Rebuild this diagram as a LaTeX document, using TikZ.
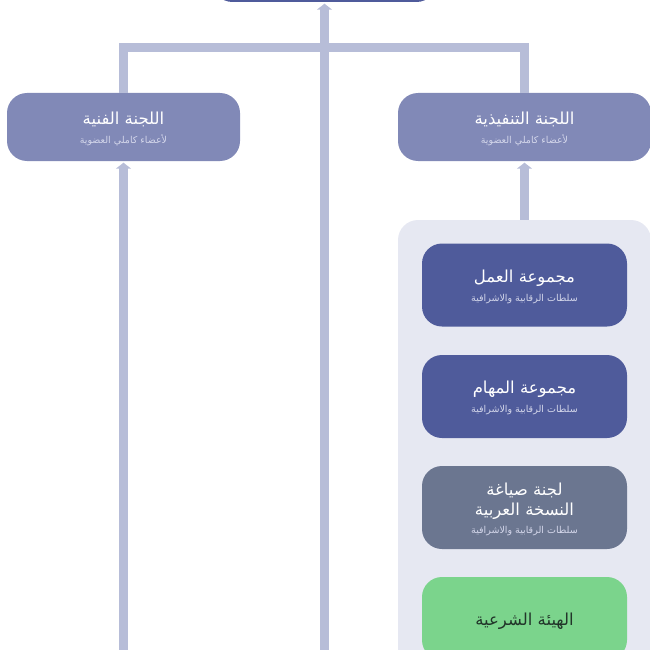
\documentclass[tikz,border=0pt]{standalone}
\usepackage{fontspec}
\usepackage{xcolor}
\usepackage{tikz}
\usetikzlibrary{arrows.meta}
\TeXXeTstate=1
\newfontfamily\arabicfont[Script=Arabic]{DejaVu Sans}
\newcommand\artext[1]{{\arabicfont\beginR #1\endR}}
\newcommand\boxtitle[1]{\artext{#1}}
\newcommand\firsttitle[1]{\rule{0pt}{18pt}\artext{#1}}
\newcommand\boxsub[1]{{\fontsize{9.5}{10}\selectfont\color{subtext}\artext{#1}\rule[-5pt]{0pt}{0pt}}}
\definecolor{linkblue}{HTML}{B7BDD8}
\definecolor{headblue}{HTML}{4F5B9B}
\definecolor{midblue}{HTML}{8189B7}
\definecolor{slate}{HTML}{6B7690}
\definecolor{mint}{HTML}{7BD48C}
\definecolor{panel}{HTML}{E6E8F2}
\definecolor{subtext}{HTML}{D3D6EA}
\definecolor{mintext}{HTML}{22352A}
\tikzstyle{box}=[rounded corners=20pt, inner sep=0pt, align=center, text=white, font=\fontsize{16.5}{20}\selectfont]
\tikzstyle{topbox}=[box, fill=midblue, minimum height=68pt]
\tikzstyle{groupbox}=[box, minimum width=205pt, minimum height=83pt]
\tikzstyle{link}=[draw=linkblue, line width=9pt]
\tikzstyle{up}=[link, -{Triangle[width=15pt,length=6pt]}, shorten >=1.5pt]

\begin{document}
\begin{tikzpicture}
                \useasboundingbox (0pt, 0pt) rectangle (650pt, -650pt);
                \clip (0pt, 0pt) rectangle (650pt, -650pt);

                \node[box, fill=headblue, minimum width=224pt, minimum height=64pt] (head) at (324.5pt, 30pt) {};
                \node[topbox, minimum width=233pt] (tech) at (123.5pt, -127pt)
                    {\firsttitle{اللجنة الفنية}\\[-1pt]\boxsub{لأعضاء كاملي العضوية}};
                \node[topbox, minimum width=253pt] (exec) at (524.5pt, -127pt)
                    {\firsttitle{اللجنة التنفيذية}\\[-1pt]\boxsub{لأعضاء كاملي العضوية}};

                \node[box, fill=panel, minimum width=253pt, minimum height=480pt] (panel) at (524.5pt, -460pt) {};
                \node[groupbox, fill=headblue] (work) at (524.5pt, -285pt)
                    {\firsttitle{مجموعة العمل}\\[-1pt]\boxsub{سلطات الرقابية والاشرافية}};
                \node[groupbox, fill=headblue] (tasks) at (524.5pt, -396.5pt)
                    {\firsttitle{مجموعة المهام}\\[-1pt]\boxsub{سلطات الرقابية والاشرافية}};
                \node[groupbox, fill=slate] (draft) at (524.5pt, -507.5pt)
                    {\firsttitle{لجنة صياغة}\\\boxtitle{النسخة العربية}\\[-2pt]\boxsub{سلطات الرقابية والاشرافية}};
                \node[groupbox, fill=mint, text=mintext] (sharia) at (524.5pt, -618.5pt)
                    {\firsttitle{الهيئة الشرعية}};

                \coordinate (midfoot) at (324.5pt, -660pt);
                \coordinate (techfoot) at (123.5pt, -660pt);

                \draw[link] (tech.north) -- ++(0pt, 45pt) -| (exec.north);
                \draw[up] (midfoot) -- (head.south);
                \draw[up] (techfoot) -- (tech.south);
                \draw[up] (panel.north) -- (exec.south);
            \end{tikzpicture}
\end{document}
